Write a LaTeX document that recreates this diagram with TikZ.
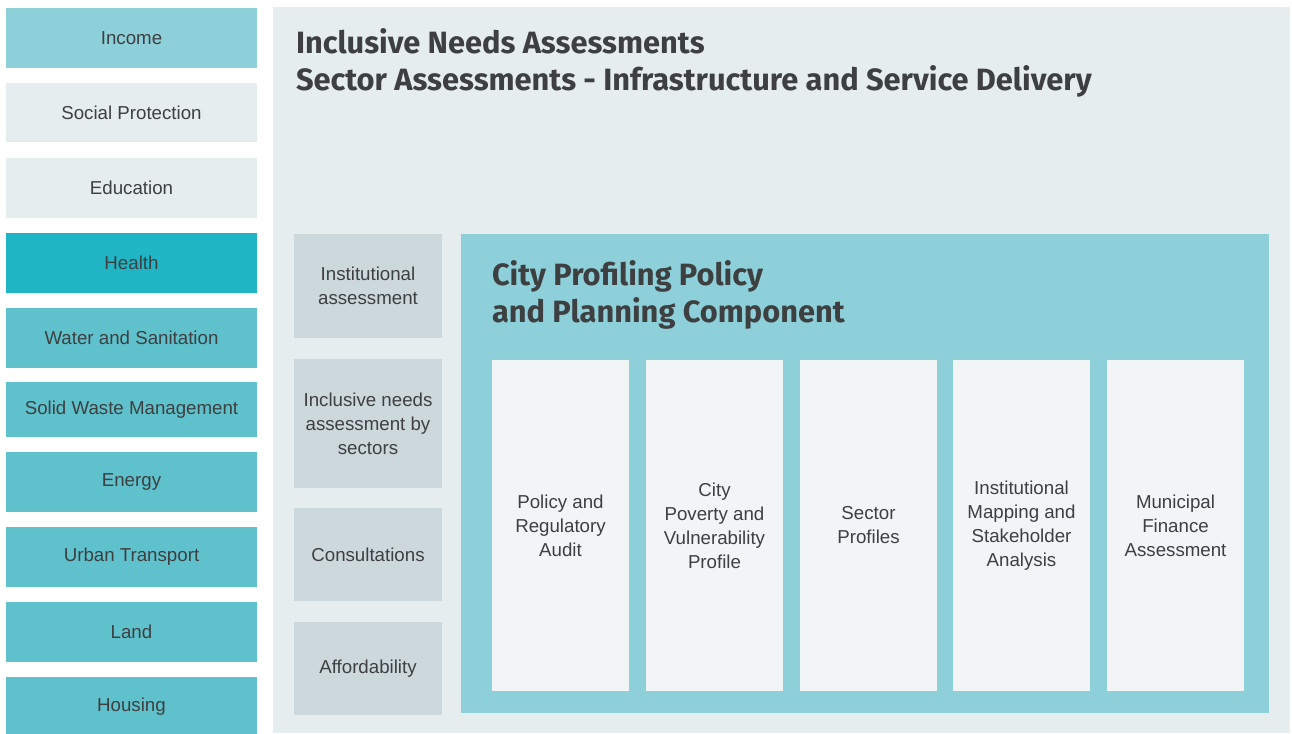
\documentclass[tikz,border=0pt]{standalone}
\usepackage{fontspec}
\setmainfont{Liberation Sans}
\newfontfamily\headfont{Fira Sans}
\definecolor{txt}{HTML}{3D3F41}
\definecolor{panel}{HTML}{E5EDEF}
\definecolor{incomec}{HTML}{8ED0D9}
\definecolor{healthc}{HTML}{20B5C4}
\definecolor{sectorc}{HTML}{5FC1CC}
\definecolor{graybox}{HTML}{CDD8DD}
\definecolor{tealpanel}{HTML}{8DD0D9}
\definecolor{whitecol}{HTML}{F1F5F6}
\tikzset{
  box/.style={draw=none, inner sep=0pt, outer sep=0pt, anchor=north west, align=center,
    text=txt, font=\fontsize{18.7}{24}\selectfont},
  headtxt/.style={inner sep=0pt, outer sep=0pt, anchor=base west, align=left, text=txt,
    font=\headfont\bfseries\fontsize{30.8}{37}\selectfont},
  leftbox/.style={box, minimum width=251pt},
  inbox/.style={box, fill=graybox, minimum width=148pt},
  colbox/.style={box, fill=whitecol, minimum width=137pt, minimum height=331pt},
}
\begin{document}
\begin{tikzpicture}[x=1pt,y=-1pt]
\useasboundingbox (0,0) rectangle (1292,733);
% left column
\node[leftbox, fill=incomec, minimum height=60pt] (income) at (6,8) {Income};
\node[leftbox, fill=panel, minimum height=59pt] (social) at (6,83) {Social Protection};
\node[leftbox, fill=panel, minimum height=60pt] (edu) at (6,158) {Education};
\node[leftbox, fill=healthc, minimum height=60pt] (health) at (6,233) {Health};
\node[leftbox, fill=sectorc, minimum height=60pt] (water) at (6,308) {Water and Sanitation};
\node[leftbox, fill=sectorc, minimum height=55pt] (waste) at (6,382) {Solid Waste Management};
\node[leftbox, fill=sectorc, minimum height=60pt] (energy) at (6,452) {Energy};
\node[leftbox, fill=sectorc, minimum height=60pt] (transport) at (6,527) {Urban Transport};
\node[leftbox, fill=sectorc, minimum height=60pt] (land) at (6,602) {Land};
\node[leftbox, fill=sectorc, minimum height=60pt] (housing) at (6,677) {Housing};
% big panel
\node[box, fill=panel, minimum width=1017pt, minimum height=726pt] (panel) at (273,7) {};
\node[headtxt] (title) at (296,91) {Inclusive Needs Assessments\\Sector Assessments - Infrastructure and Service Delivery};
% inner gray column
\node[inbox, minimum height=104pt] (inst) at (294,234) {Institutional\\assessment};
\node[inbox, minimum height=129pt] (incl) at (294,359) {Inclusive needs\\assessment by\\sectors};
\node[inbox, minimum height=93pt] (cons) at (294,508) {Consultations};
\node[inbox, minimum height=93pt] (afford) at (294,622) {Affordability};
% teal panel
\node[box, fill=tealpanel, minimum width=808pt, minimum height=479pt] (teal) at (461,234) {};
\node[headtxt] (ctitle) at (492,322) {City Profiling Policy\\and Planning Component};
\node[colbox] (c1) at (492,360) {Policy and\\Regulatory\\Audit};
\node[colbox] (c2) at (646,360) {City\\Poverty and\\Vulnerability\\Profile};
\node[colbox] (c3) at (800,360) {Sector\\Profiles};
\node[colbox] (c4) at (953,360) {Institutional\\Mapping and\\Stakeholder\\Analysis};
\node[colbox] (c5) at (1107,360) {Municipal\\Finance\\Assessment};
\end{tikzpicture}
\end{document}
